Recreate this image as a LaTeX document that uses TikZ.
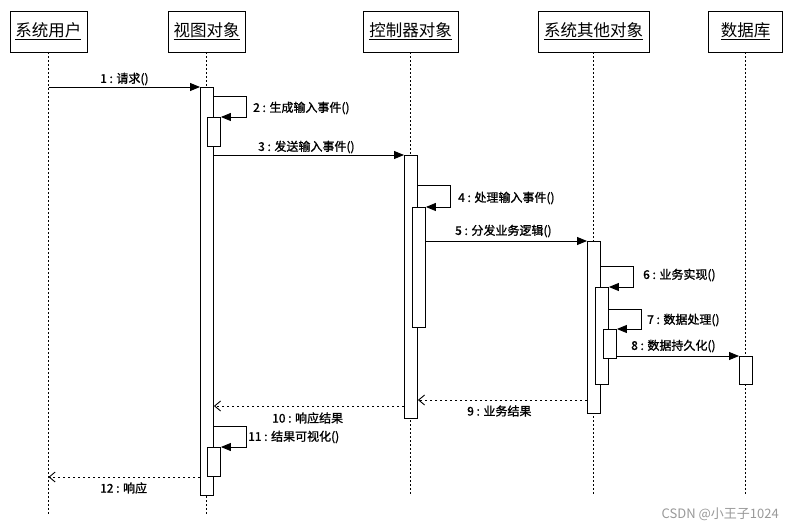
\documentclass[tikz,border=0pt]{standalone}
\usepackage{fontspec}
\setmainfont{Noto Sans CJK SC}
\newfontfamily\lblfont[FakeBold=1.2]{Noto Sans CJK SC}
\usetikzlibrary{arrows.meta,calc}
\begin{document}
\begin{tikzpicture}[x=1pt,y=-1pt,
 hdr/.style={draw,line width=0.9pt,minimum width=#1,minimum height=41pt,inner sep=0pt,font=\fontsize{16.5}{17}\selectfont},
 lifel/.style={line width=0.9pt,dash pattern=on 2pt off 2pt},
 act/.style={draw,fill=white,line width=0.9pt,minimum width=13pt,minimum height=#1,inner sep=0pt,anchor=north west},
 msg/.style={line width=0.9pt,-{Triangle[length=10pt,width=8pt]}},
 ret/.style={line width=0.9pt,dash pattern=on 2.5pt off 2.5pt,-{Straight Barb[length=6pt,width=10pt]}},
 lbl/.style={anchor=west,inner sep=0pt,font=\lblfont\fontsize{12}{13}\selectfont}]
\fill[white] (0,0) rectangle (790,529);
\useasboundingbox (0,0) rectangle (790,529);
% headers
\node[hdr=77pt] (hu) at (48.5,31.5) {\raisebox{2pt}{\underline{系统用户}}};
\node[hdr=77pt] (hv) at (206.5,31.5) {\raisebox{2pt}{\underline{视图对象}}};
\node[hdr=95pt] (hc) at (410.5,31.5) {\raisebox{2pt}{\underline{控制器对象}}};
\node[hdr=111pt] (ho) at (593.5,31.5) {\raisebox{2pt}{\underline{系统其他对象}}};
\node[hdr=74pt] (hd) at (745.5,31.5) {\raisebox{2pt}{\underline{数据库}}};
% lifeline ends
\coordinate (eu) at (48.5,515);
\coordinate (ev) at (206.5,515);
\coordinate (ec) at (410.5,495);
\coordinate (eo) at (593.5,495);
\coordinate (ed) at (745.5,495);
\draw[lifel] (hu.south) -- (eu);
\draw[lifel] (hv.south) -- (ev);
\draw[lifel] (hc.south) -- (ec);
\draw[lifel] (ho.south) -- (eo);
\draw[lifel] (hd.south) -- (ed);
% activations
\node[act=408pt] (v1) at (200,87) {};
\node[act=29pt] (v2) at (207,117) {};
\node[act=29pt] (v3) at (207,447) {};
\node[act=263pt] (c1) at (404,155) {};
\node[act=120pt] (c2) at (412,207) {};
\node[act=172pt] (o1) at (587,241) {};
\node[act=97pt] (o2) at (595,287) {};
\node[act=29pt] (o3) at (603,329) {};
\node[act=28pt] (d1) at (739,356) {};
% messages
\draw[msg] (hu.south |- v1.north) -- (v1.north west);
\node[lbl] (l1) at (100,79) {1 : 请求()};
\coordinate (s2) at (246,96);
\draw[msg] (v1.east |- s2) -- (s2) |- (v2.north east);
\node[lbl] (l2) at (253,108) {2 : 生成输入事件()};
\draw[msg] (v1.east |- c1.north) -- (c1.north west);
\node[lbl] (l3) at (258,147) {3 : 发送输入事件()};
\coordinate (s4) at (450,185);
\draw[msg] (c1.east |- s4) -- (s4) |- (c2.north east);
\node[lbl] (l4) at (458,198) {4 : 处理输入事件()};
\draw[msg] (c2.east |- o1.north) -- (o1.north west);
\node[lbl] (l5) at (455,231) {5 : 分发业务逻辑()};
\coordinate (s6) at (633,266);
\draw[msg] (o1.east |- s6) -- (s6) |- (o2.north east);
\node[lbl] (l6) at (643,275) {6 : 业务实现()};
\coordinate (s7) at (641,309);
\draw[msg] (o2.east |- s7) -- (s7) |- (o3.north east);
\node[lbl] (l7) at (647,320) {7 : 数据处理()};
\draw[msg] (o3.east |- d1.north) -- (d1.north west);
\node[lbl] (l8) at (631,346) {8 : 数据持久化()};
\coordinate (r9) at (0,400);
\draw[ret] (o1.west |- r9) -- (c1.east |- r9);
\node[lbl] (l9) at (467,411) {9 : 业务结果};
\coordinate (r10) at (0,406);
\draw[ret] (c1.west |- r10) -- (v1.east |- r10);
\node[lbl] (l10) at (272,418) {10 : 响应结果};
\coordinate (s11) at (246,426);
\draw[msg] (v1.east |- s11) -- (s11) |- (v3.north east);
\node[lbl] (l11) at (248,437) {11 : 结果可视化()};
\coordinate (r12) at (0,477);
\draw[ret] (v1.west |- r12) -- (hu.south |- r12);
\node[lbl] (l12) at (100,488) {12 : 响应};
\node[anchor=east,inner sep=0pt,text=black!40,font=\fontsize{13}{14}\selectfont] (wm) at (779,514) {CSDN @小王子1024};
\end{tikzpicture}
\end{document}
